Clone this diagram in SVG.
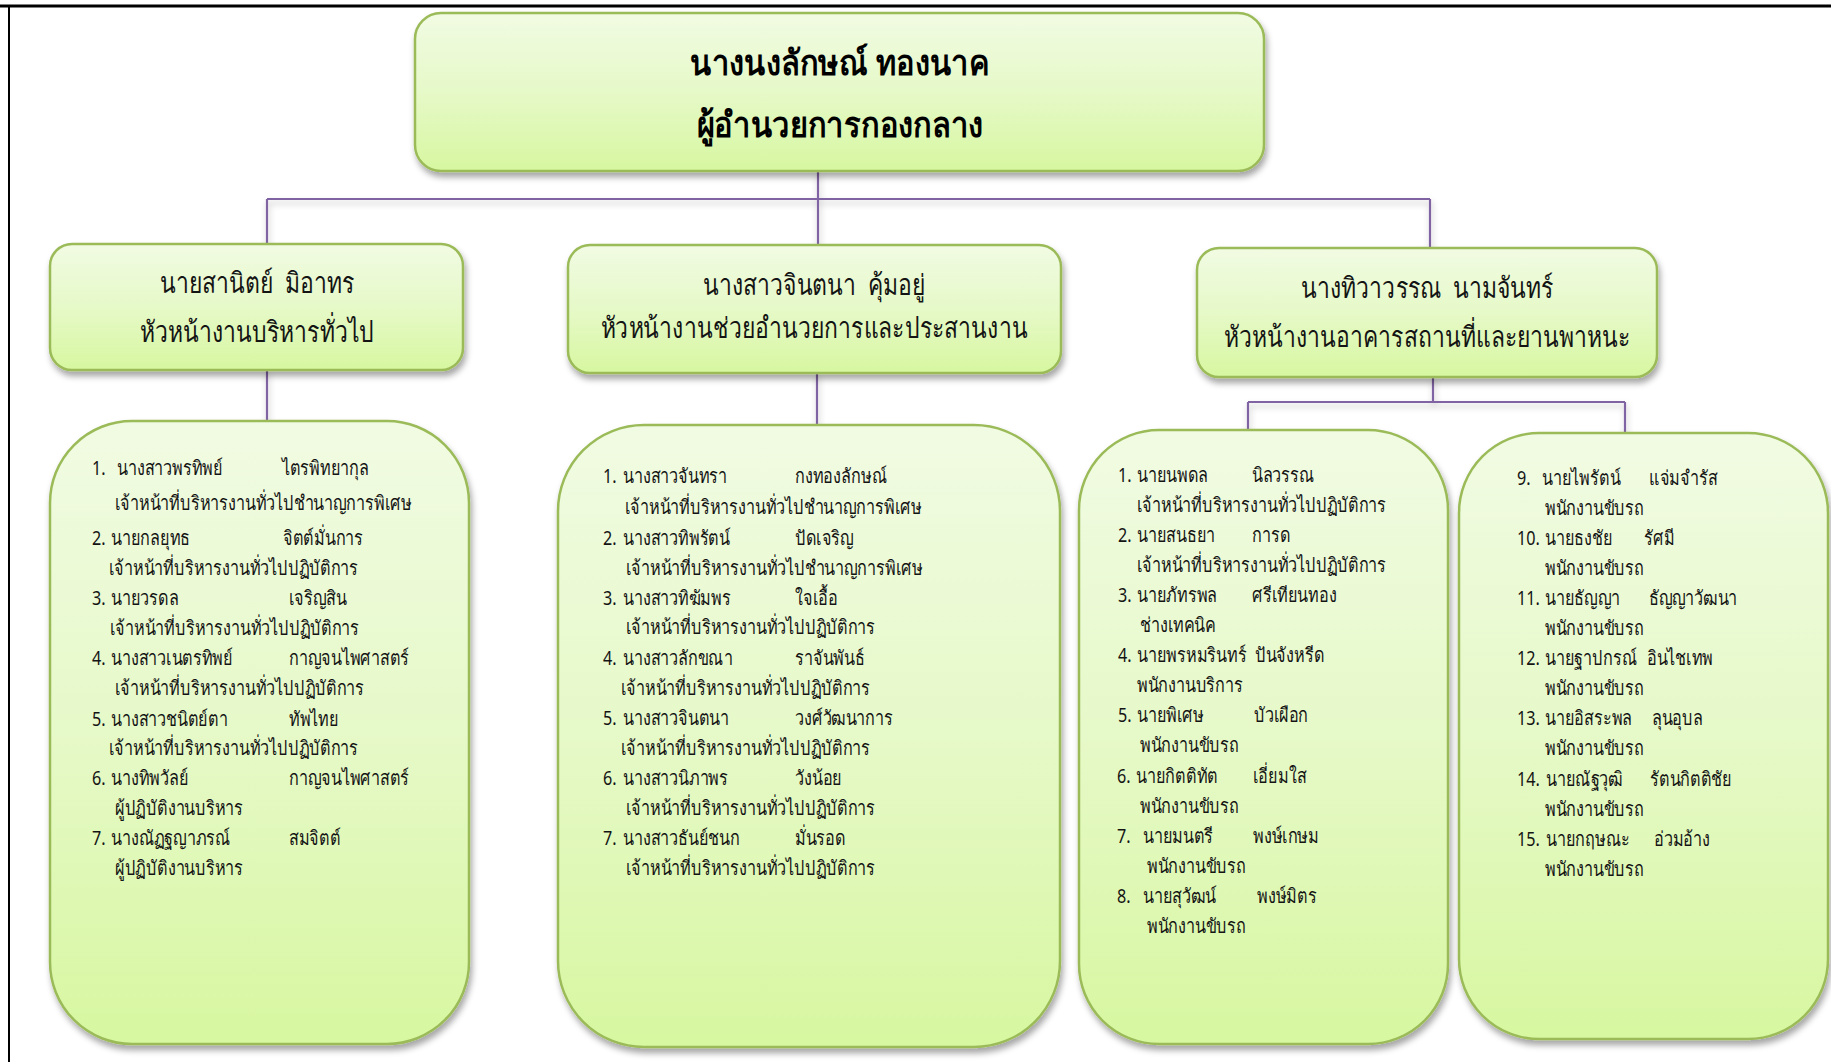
<svg xmlns="http://www.w3.org/2000/svg" width="1831" height="1062" viewBox="0 0 1831 1062">
  <style>
    .box { stroke: #9bbb59; stroke-width: 2.5; filter: url(#shadow); }
    .link { stroke: #8064a2; stroke-width: 2.2; fill: none; }
    .head { font-family: "Noto Sans", "DejaVu Sans", sans-serif; font-size: 35px; font-weight: bold; fill: #000; text-anchor: middle;
            transform-box: fill-box; transform-origin: 50% 0; transform: scaleX(0.88); }
    .mid { font-family: "Noto Sans", "DejaVu Sans", sans-serif; font-size: 29px; fill: #141414; text-anchor: middle; white-space: pre;
           transform-box: fill-box; transform-origin: 50% 0; transform: scaleX(0.79); }
    .li text { font-family: "Noto Sans", "DejaVu Sans", sans-serif; font-size: 20px; fill: #141414;
               transform-box: fill-box; transform-origin: 0 0; transform: scaleX(0.81); }
  </style>
  <defs>
    <linearGradient id="fillGreen" x1="0" y1="0" x2="0" y2="1">
      <stop offset="0" stop-color="#f1fbe3"/>
      <stop offset="0.5" stop-color="#e6f9c8"/>
      <stop offset="1" stop-color="#d7f7a0"/>
    </linearGradient>
    <filter id="shadow" x="-10%" y="-10%" width="120%" height="130%">
      <feDropShadow dx="2" dy="5" stdDeviation="3" flood-color="#000" flood-opacity="0.35"/>
    </filter>
    <filter id="lineShadow" x="-5%" y="-50%" width="110%" height="400%">
      <feDropShadow dx="1" dy="4" stdDeviation="3" flood-color="#000" flood-opacity="0.25"/>
    </filter>
  </defs>

  <rect width="1831" height="1062" fill="#ffffff"/>
  <!-- page frame -->
  <line x1="0" y1="6" x2="1831" y2="6" stroke="#000" stroke-width="3"/>
  <line x1="9" y1="6" x2="9" y2="1062" stroke="#000" stroke-width="2"/>

  <!-- connectors -->
  <g id="connectors" filter="url(#lineShadow)">
    <path class="link" d="M818 171 V199"/>
    <path class="link" d="M267 199 H1430"/>
    <path class="link" d="M267 199 V244"/>
    <path class="link" d="M818 199 V245"/>
    <path class="link" d="M1430 199 V249"/>
    <path class="link" d="M267 370 V421"/>
    <path class="link" d="M817 373 V426"/>
    <path class="link" d="M1433 377 V402"/>
    <path class="link" d="M1248 402 H1625"/>
    <path class="link" d="M1248 402 V430"/>
    <path class="link" d="M1625 402 V433"/>
  </g>

  <!-- director -->
  <g id="director">
    <rect class="box" x="415" y="13" width="849" height="158" rx="26" fill="url(#fillGreen)"/>
    <text class="head" x="840" y="75">นางนงลักษณ์ ทองนาค</text>
    <text class="head" x="840" y="137">ผู้อำนวยการกองกลาง</text>
  </g>

  <!-- section heads -->
  <g id="head-admin">
    <rect class="box" x="50" y="244" width="413" height="126" rx="22" fill="url(#fillGreen)"/>
    <text class="mid" x="257" y="293">นายสานิตย์  มิอาทร</text>
    <text class="mid" x="257" y="342">หัวหน้างานบริหารทั่วไป</text>
  </g>
  <g id="head-coord">
    <rect class="box" x="568" y="245" width="493" height="128" rx="22" fill="url(#fillGreen)"/>
    <text class="mid" x="814" y="295">นางสาวจินตนา  คุ้มอยู่</text>
    <text class="mid" x="814" y="338">หัวหน้างานช่วยอำนวยการและประสานงาน</text>
  </g>
  <g id="head-building">
    <rect class="box" x="1197" y="248" width="460" height="129" rx="22" fill="url(#fillGreen)"/>
    <text class="mid" x="1427" y="298">นางทิวาวรรณ  นามจันทร์</text>
    <text class="mid" x="1427" y="347">หัวหน้างานอาคารสถานที่และยานพาหนะ</text>
  </g>

  <!-- staff: general administration -->
  <g id="staff-admin">
    <rect class="box" x="50" y="421" width="419" height="623" rx="82" fill="url(#fillGreen)"/>
    <g class="li">
      <text x="92" y="475">1.</text><text x="117" y="475">นางสาวพรทิพย์</text><text x="282" y="475">ไตรพิทยากุล</text>
      <text x="115" y="510">เจ้าหน้าที่บริหารงานทั่วไปชำนาญการพิเศษ</text>
      <text x="92" y="545">2.</text><text x="111" y="545">นายกลยุทธ</text><text x="283" y="545">จิตต์มั่นการ</text>
      <text x="109" y="575">เจ้าหน้าที่บริหารงานทั่วไปปฏิบัติการ</text>
      <text x="92" y="605">3.</text><text x="111" y="605">นายวรดล</text><text x="289" y="605">เจริญสิน</text>
      <text x="110" y="635">เจ้าหน้าที่บริหารงานทั่วไปปฏิบัติการ</text>
      <text x="92" y="665">4.</text><text x="111" y="665">นางสาวเนตรทิพย์</text><text x="289" y="665">กาญจนไพศาสตร์</text>
      <text x="115" y="695">เจ้าหน้าที่บริหารงานทั่วไปปฏิบัติการ</text>
      <text x="92" y="726">5.</text><text x="111" y="726">นางสาวชนิตย์ตา</text><text x="289" y="726">ทัพไทย</text>
      <text x="109" y="755">เจ้าหน้าที่บริหารงานทั่วไปปฏิบัติการ</text>
      <text x="92" y="785">6.</text><text x="111" y="785">นางทิพวัลย์</text><text x="289" y="785">กาญจนไพศาสตร์</text>
      <text x="115" y="815">ผู้ปฏิบัติงานบริหาร</text>
      <text x="92" y="845">7.</text><text x="111" y="845">นางณัฏฐญาภรณ์</text><text x="289" y="845">สมจิตต์</text>
      <text x="115" y="875">ผู้ปฏิบัติงานบริหาร</text>
    </g>
  </g>

  <!-- staff: executive support and coordination -->
  <g id="staff-coord">
    <rect class="box" x="558" y="425" width="502" height="622" rx="86" fill="url(#fillGreen)"/>
    <g class="li">
      <text x="603" y="483">1.</text><text x="623" y="483">นางสาวจันทรา</text><text x="795" y="483">กงทองลักษณ์</text>
      <text x="625" y="514">เจ้าหน้าที่บริหารงานทั่วไปชำนาญการพิเศษ</text>
      <text x="603" y="545">2.</text><text x="623" y="545">นางสาวทิพรัตน์</text><text x="795" y="545">ปัดเจริญ</text>
      <text x="626" y="575">เจ้าหน้าที่บริหารงานทั่วไปชำนาญการพิเศษ</text>
      <text x="603" y="605">3.</text><text x="623" y="605">นางสาวทิฆัมพร</text><text x="795" y="605">ใจเอื้อ</text>
      <text x="626" y="634">เจ้าหน้าที่บริหารงานทั่วไปปฏิบัติการ</text>
      <text x="603" y="665">4.</text><text x="623" y="665">นางสาวลักขณา</text><text x="795" y="665">ราจันพันธ์</text>
      <text x="621" y="695">เจ้าหน้าที่บริหารงานทั่วไปปฏิบัติการ</text>
      <text x="603" y="725">5.</text><text x="623" y="725">นางสาวจินตนา</text><text x="795" y="725">วงศ์วัฒนาการ</text>
      <text x="621" y="755">เจ้าหน้าที่บริหารงานทั่วไปปฏิบัติการ</text>
      <text x="603" y="785">6.</text><text x="623" y="785">นางสาวนิภาพร</text><text x="795" y="785">วังน้อย</text>
      <text x="626" y="815">เจ้าหน้าที่บริหารงานทั่วไปปฏิบัติการ</text>
      <text x="603" y="845">7.</text><text x="623" y="845">นางสาวธันย์ชนก</text><text x="795" y="845">มั่นรอด</text>
      <text x="626" y="875">เจ้าหน้าที่บริหารงานทั่วไปปฏิบัติการ</text>
    </g>
  </g>

  <!-- staff: buildings and vehicles, part 1 -->
  <g id="staff-building-1">
    <rect class="box" x="1079" y="430" width="369" height="614" rx="80" fill="url(#fillGreen)"/>
    <g class="li">
      <text x="1118" y="482">1.</text><text x="1137" y="482">นายนพดล</text><text x="1252" y="482">นิลวรรณ</text>
      <text x="1137" y="512">เจ้าหน้าที่บริหารงานทั่วไปปฏิบัติการ</text>
      <text x="1118" y="542">2.</text><text x="1137" y="542">นายสนธยา</text><text x="1252" y="542">การด</text>
      <text x="1137" y="572">เจ้าหน้าที่บริหารงานทั่วไปปฏิบัติการ</text>
      <text x="1118" y="602">3.</text><text x="1137" y="602">นายภัทรพล</text><text x="1252" y="602">ศรีเทียนทอง</text>
      <text x="1140" y="632">ช่างเทคนิค</text>
      <text x="1118" y="662">4.</text><text x="1137" y="662">นายพรหมรินทร์</text><text x="1255" y="662">ปันจังหรีด</text>
      <text x="1137" y="692">พนักงานบริการ</text>
      <text x="1118" y="722">5.</text><text x="1137" y="722">นายพิเศษ</text><text x="1254" y="722">บัวเผือก</text>
      <text x="1140" y="752">พนักงานขับรถ</text>
      <text x="1117" y="783">6.</text><text x="1136" y="783">นายกิตติทัต</text><text x="1253" y="783">เอี่ยมใส</text>
      <text x="1140" y="813">พนักงานขับรถ</text>
      <text x="1117" y="843">7.</text><text x="1143" y="843">นายมนตรี</text><text x="1253" y="843">พงษ์เกษม</text>
      <text x="1147" y="873">พนักงานขับรถ</text>
      <text x="1117" y="903">8.</text><text x="1143" y="903">นายสุวัฒน์</text><text x="1257" y="903">พงษ์มิตร</text>
      <text x="1147" y="933">พนักงานขับรถ</text>
    </g>
  </g>

  <!-- staff: buildings and vehicles, part 2 -->
  <g id="staff-building-2">
    <rect class="box" x="1459" y="433" width="369" height="606" rx="80" fill="url(#fillGreen)"/>
    <g class="li">
      <text x="1517" y="485">9.</text><text x="1542" y="485">นายไพรัตน์</text><text x="1649" y="485">แจ่มจำรัส</text>
      <text x="1545" y="515">พนักงานขับรถ</text>
      <text x="1517" y="545">10.</text><text x="1545" y="545">นายธงชัย</text><text x="1644" y="545">รัศมี</text>
      <text x="1545" y="575">พนักงานขับรถ</text>
      <text x="1517" y="605">11.</text><text x="1545" y="605">นายธัญญา</text><text x="1649" y="605">ธัญญาวัฒนา</text>
      <text x="1545" y="635">พนักงานขับรถ</text>
      <text x="1517" y="665">12.</text><text x="1545" y="665">นายฐาปกรณ์</text><text x="1647" y="665">อินไชเทพ</text>
      <text x="1545" y="695">พนักงานขับรถ</text>
      <text x="1517" y="725">13.</text><text x="1545" y="725">นายอิสระพล</text><text x="1652" y="725">ลุนอุบล</text>
      <text x="1545" y="755">พนักงานขับรถ</text>
      <text x="1517" y="786">14.</text><text x="1546" y="786">นายณัฐวุฒิ</text><text x="1650" y="786">รัตนกิตติชัย</text>
      <text x="1545" y="816">พนักงานขับรถ</text>
      <text x="1517" y="846">15.</text><text x="1546" y="846">นายกฤษณะ</text><text x="1654" y="846">อ่วมอ้าง</text>
      <text x="1545" y="876">พนักงานขับรถ</text>
    </g>
  </g>
</svg>
